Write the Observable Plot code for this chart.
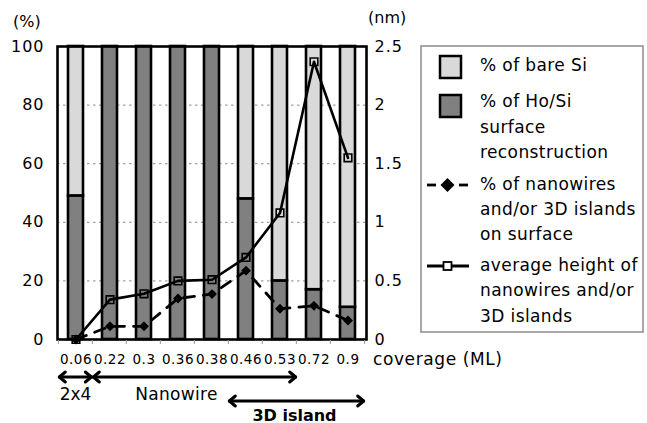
<!DOCTYPE html>
<html>
<head>
<meta charset="utf-8">
<script src="https://cdn.jsdelivr.net/npm/d3@7"></script>
<script src="https://cdn.jsdelivr.net/npm/@observablehq/plot@0.6"></script>
<style>
  html, body { margin: 0; padding: 0; background: white; }
  svg text { font-family: "DejaVu Sans", sans-serif; }
</style>
</head>
<body>
<div id="chart"></div>
<script>
// ---- data ----
const categories = ["0.06", "0.22", "0.3", "0.36", "0.38", "0.46", "0.53", "0.72", "0.9"];
const hoSiPct = [49, 100, 100, 100, 100, 48, 20, 17, 11];
const bareSiPct = [51, 0, 0, 0, 0, 52, 80, 83, 89];
const nanowirePct = [0, 4.5, 4.5, 14, 15.5, 23.5, 10.5, 11.5, 6.5];
const avgHeightNm = [0, 0.34, 0.39, 0.50, 0.51, 0.70, 1.08, 2.37, 1.55];
const leftTicks = [0, 20, 40, 60, 80, 100];
const rightTickLabels = ["0", "0.5", "1", "1.5", "2", "2.5"];
const seriesNames = ["% of Ho/Si surface reconstruction", "% of bare Si"];
const nmToPct = 100 / 2.5;

const barData = [];
categories.forEach((c, i) => {
  barData.push({coverage: c, series: seriesNames[0], value: hoSiPct[i]});
  barData.push({coverage: c, series: seriesNames[1], value: bareSiPct[i]});
});
const nwData = categories.map((c, i) => ({coverage: c, value: nanowirePct[i]}));
const hData = categories.map((c, i) => ({coverage: c, value: avgHeightNm[i] * nmToPct}));

const chart = Plot.plot({
  width: 647,
  height: 423,
  marginLeft: 57,
  marginRight: 281,
  marginTop: 46,
  marginBottom: 84,
  style: {fontFamily: "DejaVu Sans", background: "white", color: "black", overflow: "visible"},
  x: {domain: categories, paddingInner: 0.55, paddingOuter: 0.275},
  y: {domain: [0, 100]},
  color: {domain: seriesNames, range: ["#808080", "#d9d9d9"]},
  marks: [
    Plot.ruleY([20, 40, 60, 80], {stroke: "#8a8a8a", strokeWidth: 1, strokeDasharray: "2.5,3.5"}),
    Plot.barY(barData, {x: "coverage", y: "value", fill: "series", stroke: "black", strokeWidth: 2.6}),
    Plot.line(nwData, {x: "coverage", y: "value", stroke: "black", strokeWidth: 2.8, strokeDasharray: "11,9"}),
    Plot.dot(nwData, {x: "coverage", y: "value", symbol: "diamond2", r: 3.5, fill: "black", stroke: "black"}),
    Plot.line(hData, {x: "coverage", y: "value", stroke: "black", strokeWidth: 2.6}),
    Plot.dot(hData, {x: "coverage", y: "value", symbol: "square", r: 4.3, fill: "none", stroke: "black", strokeWidth: 1.6}),
    Plot.frame({stroke: "black", strokeWidth: 2.6}),
    Plot.axisY({ticks: leftTicks, tickSize: 0, tickPadding: 13, fontSize: 16, label: null}),
    Plot.axisY({anchor: "right", ticks: leftTicks, tickFormat: (d) => rightTickLabels[leftTicks.indexOf(d)], tickSize: 0, tickPadding: 8, fontSize: 16, label: null}),
    Plot.axisX({tickSize: 0, tickPadding: 15, fontSize: 13.5, label: null})
  ]
});
document.getElementById("chart").appendChild(chart);

// ---- annotations using the chart's scales ----
const svg = d3.select(chart);
const xs = chart.scale("x");
const ys = chart.scale("y");
const step = (xs.range[1] - xs.range[0]) / categories.length;
const center = (c) => xs.apply(c) + xs.bandwidth / 2;
const leftEdge = (c) => center(c) - step / 2;
const rightEdge = (c) => center(c) + step / 2;
const y0 = ys.apply(0);

// x-axis band boundary ticks
const edges = categories.map(leftEdge).concat([rightEdge(categories[categories.length - 1])]);
svg.append("g").selectAll("line").data(edges).join("line")
  .attr("x1", d => d).attr("x2", d => d)
  .attr("y1", y0 + 1).attr("y2", y0 + 5)
  .attr("stroke", "#999").attr("stroke-width", 1);

svg.selectAll("g[aria-label='x-axis tick label']").attr("font-size", 13.5).attr("letter-spacing", "0.5");
svg.selectAll("g[aria-label='y-axis tick label'] text").attr("letter-spacing", "1");

const ann = svg.append("g").attr("font-family", "DejaVu Sans").attr("fill", "black").attr("text-anchor", "start");
ann.append("text").attr("x", 13).attr("y", 22).attr("dominant-baseline", "middle").attr("font-size", 16).text("(%)");
ann.append("text").attr("x", 368).attr("y", 18).attr("dominant-baseline", "middle").attr("font-size", 16).text("(nm)");
ann.append("text").attr("x", 373).attr("y", y0 + 21).attr("dominant-baseline", "middle").attr("font-size", 17).attr("letter-spacing", "0.6").text("coverage (ML)");

function dblArrow(x1, x2, y) {
  const g = ann.append("g").attr("stroke", "black").attr("stroke-width", 3).attr("fill", "none").attr("stroke-linecap", "round").attr("stroke-linejoin", "round");
  g.append("line").attr("x1", x1 + 1).attr("x2", x2 - 1).attr("y1", y).attr("y2", y);
  g.append("path").attr("d", `M${x1 + 7},${y - 5} L${x1 + 1},${y} L${x1 + 7},${y + 5}`);
  g.append("path").attr("d", `M${x2 - 7},${y - 5} L${x2 - 1},${y} L${x2 - 7},${y + 5}`);
}
dblArrow(leftEdge("0.06"), leftEdge("0.22"), y0 + 38);
dblArrow(leftEdge("0.22"), rightEdge("0.53"), y0 + 38);
dblArrow(leftEdge("0.46"), rightEdge("0.9"), y0 + 62);
ann.append("text").attr("x", center("0.06")).attr("y", y0 + 56).attr("text-anchor", "middle").attr("dominant-baseline", "middle").attr("font-size", 17).text("2x4");
ann.append("text").attr("x", (leftEdge("0.22") + rightEdge("0.53")) / 2 - 18).attr("y", y0 + 56).attr("text-anchor", "middle").attr("dominant-baseline", "middle").attr("font-size", 17).attr("letter-spacing", "0.3").text("Nanowire");
ann.append("text").attr("x", (leftEdge("0.46") + rightEdge("0.9")) / 2 - 2).attr("y", y0 + 77).attr("text-anchor", "middle").attr("dominant-baseline", "middle").attr("font-size", 16).attr("font-weight", "bold").text("3D island");

// ---- legend ----
const lg = svg.append("g").attr("font-family", "DejaVu Sans").attr("font-size", 17).attr("text-anchor", "start");
lg.append("rect").attr("x", 421).attr("y", 46).attr("width", 222).attr("height", 286).attr("fill", "white").attr("stroke", "#8c8c8c").attr("stroke-width", 1.5);
lg.append("rect").attr("x", 440).attr("y", 56).attr("width", 21).attr("height", 22).attr("fill", "#d9d9d9").attr("stroke", "black").attr("stroke-width", 2.5);
lg.append("rect").attr("x", 440).attr("y", 95).attr("width", 21).attr("height", 22).attr("fill", "#808080").attr("stroke", "black").attr("stroke-width", 2.5);
// dashed + diamond
lg.append("line").attr("x1", 427).attr("x2", 436).attr("y1", 185).attr("y2", 185).attr("stroke", "black").attr("stroke-width", 2.8);
lg.append("line").attr("x1", 459).attr("x2", 468).attr("y1", 185).attr("y2", 185).attr("stroke", "black").attr("stroke-width", 2.8);
lg.append("path").attr("d", "M447.5,178 L454.5,185 L447.5,192 L440.5,185 Z").attr("fill", "black");
// solid + square
lg.append("line").attr("x1", 427).attr("x2", 469).attr("y1", 266).attr("y2", 266).attr("stroke", "black").attr("stroke-width", 2.8);
lg.append("rect").attr("x", 443.5).attr("y", 262).attr("width", 8).attr("height", 8).attr("fill", "white").attr("stroke", "black").attr("stroke-width", 1.8);

const legendLines = [
  ["% of bare Si", 66],
  ["% of Ho/Si", 102],
  ["surface", 128],
  ["reconstruction", 153],
  ["% of nanowires", 185],
  ["and/or 3D islands", 210],
  ["on surface", 235],
  ["average height of", 266],
  ["nanowires and/or", 291],
  ["3D islands", 317]
];
lg.selectAll("text.l").data(legendLines).join("text")
  .attr("x", 480).attr("y", d => d[1]).attr("dominant-baseline", "middle")
  .attr("fill", "black").attr("letter-spacing", "0.4").text(d => d[0]);
</script>
</body>
</html>
